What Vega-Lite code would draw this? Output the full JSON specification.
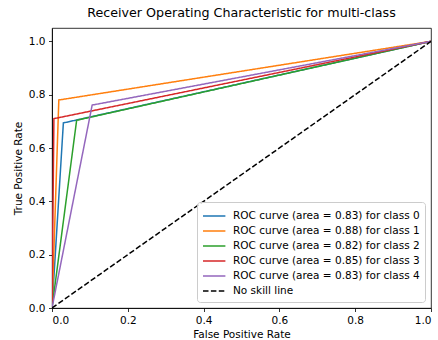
{
  "$schema": "https://vega.github.io/schema/vega-lite/v6.json",
  "autosize": {"type": "none"},
  "padding": {"left": 52, "top": 28, "right": 7, "bottom": 32},
  "width": 379,
  "height": 280,
  "background": "white",
  "title": {"text": "Receiver Operating Characteristic for multi-class", "font": "DejaVu Sans", "fontSize": 12.7, "fontWeight": "normal", "color": "black", "anchor": "middle", "offset": 8},
  "data": {"values": [
    {"series": "ROC curve (area = 0.83) for class 0", "idx": 0, "fpr": 0, "tpr": 0},
    {"series": "ROC curve (area = 0.83) for class 0", "idx": 1, "fpr": 0.03, "tpr": 0.694},
    {"series": "ROC curve (area = 0.83) for class 0", "idx": 2, "fpr": 1, "tpr": 1},
    {"series": "ROC curve (area = 0.88) for class 1", "idx": 0, "fpr": 0, "tpr": 0},
    {"series": "ROC curve (area = 0.88) for class 1", "idx": 1, "fpr": 0.018, "tpr": 0.78},
    {"series": "ROC curve (area = 0.88) for class 1", "idx": 2, "fpr": 1, "tpr": 1},
    {"series": "ROC curve (area = 0.82) for class 2", "idx": 0, "fpr": 0, "tpr": 0},
    {"series": "ROC curve (area = 0.82) for class 2", "idx": 1, "fpr": 0.065, "tpr": 0.704},
    {"series": "ROC curve (area = 0.82) for class 2", "idx": 2, "fpr": 1, "tpr": 1},
    {"series": "ROC curve (area = 0.85) for class 3", "idx": 0, "fpr": 0, "tpr": 0},
    {"series": "ROC curve (area = 0.85) for class 3", "idx": 1, "fpr": 0.005, "tpr": 0.71},
    {"series": "ROC curve (area = 0.85) for class 3", "idx": 2, "fpr": 1, "tpr": 1},
    {"series": "ROC curve (area = 0.83) for class 4", "idx": 0, "fpr": 0, "tpr": 0},
    {"series": "ROC curve (area = 0.83) for class 4", "idx": 1, "fpr": 0.106, "tpr": 0.761},
    {"series": "ROC curve (area = 0.83) for class 4", "idx": 2, "fpr": 1, "tpr": 1},
    {"series": "No skill line", "idx": 0, "fpr": 0, "tpr": 0},
    {"series": "No skill line", "idx": 1, "fpr": 1, "tpr": 1}
  ]},
  "mark": {"type": "line", "strokeWidth": 1.5, "clip": true},
  "encoding": {
    "x": {"field": "fpr", "type": "quantitative", "title": "False Positive Rate",
      "scale": {"domain": [0, 1], "nice": false, "zero": false},
      "axis": {"values": [0, 0.2, 0.4, 0.6, 0.8, 1.0], "format": ".1f", "titlePadding": 4}},
    "y": {"field": "tpr", "type": "quantitative", "title": "True Positive Rate",
      "scale": {"domain": [0, 1.05], "nice": false, "zero": false},
      "axis": {"values": [0, 0.2, 0.4, 0.6, 0.8, 1.0], "format": ".1f", "titlePadding": 5}},
    "order": {"field": "idx", "type": "quantitative"},
    "color": {"field": "series", "type": "nominal",
      "scale": {
        "domain": ["ROC curve (area = 0.83) for class 0", "ROC curve (area = 0.88) for class 1", "ROC curve (area = 0.82) for class 2", "ROC curve (area = 0.85) for class 3", "ROC curve (area = 0.83) for class 4", "No skill line"],
        "range": ["#1f77b4", "#ff7f0e", "#2ca02c", "#d62728", "#9467bd", "#000000"]},
      "legend": {"title": null}},
    "strokeDash": {"field": "series", "type": "nominal",
      "scale": {
        "domain": ["ROC curve (area = 0.83) for class 0", "ROC curve (area = 0.88) for class 1", "ROC curve (area = 0.82) for class 2", "ROC curve (area = 0.85) for class 3", "ROC curve (area = 0.83) for class 4", "No skill line"],
        "range": [[1, 0], [1, 0], [1, 0], [1, 0], [1, 0], [5.5, 2.4]]},
      "legend": {"title": null}}
  },
  "config": {
    "view": {"stroke": "black", "strokeWidth": 0.8},
    "axis": {"grid": false, "domainColor": "black", "domainWidth": 0.8, "tickColor": "black", "tickWidth": 0.8, "tickSize": 3.5,
      "labelColor": "black", "labelFont": "DejaVu Sans", "labelFontSize": 10.5, "labelPadding": 3.5,
      "titleColor": "black", "titleFont": "DejaVu Sans", "titleFontSize": 10.5, "titleFontWeight": "normal"},
    "legend": {"orient": "bottom-right", "offset": 6, "fillColor": "rgba(255,255,255,0.8)", "strokeColor": "#cccccc", "cornerRadius": 3, "padding": 5,
      "symbolType": "M-1,0H1.8", "symbolSize": 256, "symbolStrokeWidth": 1.5, "labelFont": "DejaVu Sans", "labelFontSize": 10.5, "labelColor": "black", "labelOffset": 13, "rowPadding": 0, "labelLimit": 300}
  }
}
